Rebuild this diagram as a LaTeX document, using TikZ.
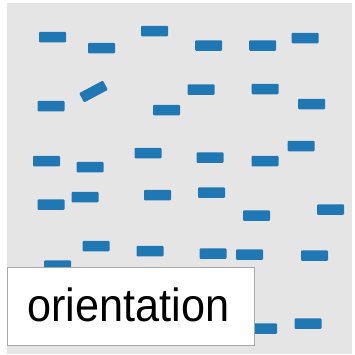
\documentclass[tikz,border=0pt]{standalone}
\usepackage{fontspec}
\setmainfont{Liberation Sans}
\definecolor{dashblue}{HTML}{1F77B4}
\definecolor{panelgray}{HTML}{E5E5E5}
\definecolor{boxborder}{HTML}{A8A8A8}
\begin{document}
\begin{tikzpicture}[x=1pt,y=-1pt,
  dashmark/.style={fill=dashblue, draw=none, minimum width=27pt, minimum height=10.5pt, inner sep=0pt, rounded corners=1pt},
  labelbox/.style={fill=white, draw=boxborder, line width=1pt}]
\useasboundingbox (0,0) rectangle (355,354);
\fill[panelgray] (7,3) rectangle (352,354);
% row 1
\node[dashmark] (d1) at (52.5,37) {};
\node[dashmark] (d2) at (101.5,48) {};
\node[dashmark] (d3) at (154.5,31) {};
\node[dashmark] (d4) at (208.5,45.5) {};
\node[dashmark] (d5) at (262.5,45.5) {};
\node[dashmark] (d6) at (305,38) {};
% row 2
\node[dashmark] (d7) at (51,106) {};
\node[dashmark, rotate=28] (d8) at (93.5,91.5) {};
\node[dashmark] (d9) at (166.5,110) {};
\node[dashmark] (d10) at (201,89.5) {};
\node[dashmark] (d11) at (265,89) {};
\node[dashmark] (d12) at (311.5,104) {};
% row 3
\node[dashmark] (d13) at (46.5,161) {};
\node[dashmark] (d14) at (90,167) {};
\node[dashmark] (d15) at (148,153) {};
\node[dashmark] (d16) at (210,157.5) {};
\node[dashmark] (d17) at (265,161) {};
\node[dashmark] (d18) at (301,146) {};
% row 4
\node[dashmark] (d19) at (51,204.5) {};
\node[dashmark] (d20) at (85,197) {};
\node[dashmark] (d21) at (157.5,195) {};
\node[dashmark] (d22) at (211.5,192.5) {};
\node[dashmark] (d23) at (256.5,215.5) {};
\node[dashmark] (d24) at (330.5,209.5) {};
% row 5
\node[dashmark] (d25) at (57.5,265.5) {};
\node[dashmark] (d26) at (96,246) {};
\node[dashmark] (d27) at (150,251) {};
\node[dashmark] (d28) at (213,253.5) {};
\node[dashmark] (d29) at (249.5,254.5) {};
\node[dashmark] (d30) at (314.5,255.5) {};
% row 6
\node[dashmark] (d31) at (263.5,328.5) {};
\node[dashmark] (d32) at (308,323.5) {};
% label box
\draw[labelbox] (7.5,267.5) rectangle (254,345);
\node[anchor=base west, inner sep=0pt, font=\fontsize{46.5pt}{50pt}\selectfont] (lbl) at (27,321) {\scalebox{0.93}[1]{orientation}};
\end{tikzpicture}
\end{document}
